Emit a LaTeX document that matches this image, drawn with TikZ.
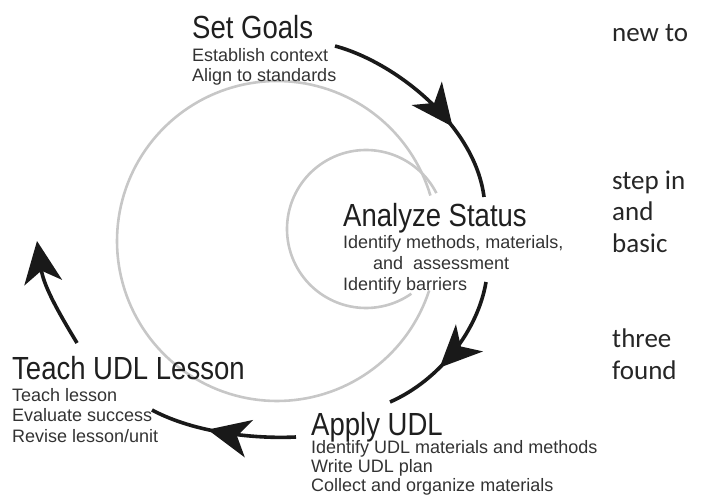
\documentclass[tikz,border=0pt]{standalone}
\usepackage{fontspec}
\usetikzlibrary{arrows.meta,decorations.markings}
\newfontfamily\headfont[FakeStretch=0.86]{Liberation Sans}
\newfontfamily\bodyfont{Liberation Sans}
\newfontfamily\pagefont{Carlito}

\begin{document}
\begin{tikzpicture}[x=1pt, y=-1pt,
    title/.style={font=\headfont\fontsize{32}{32}\selectfont, text=black!88, inner sep=0pt, anchor=base west},
    sub/.style={font=\bodyfont\fontsize{18}{18}\selectfont, text=black!80, inner sep=0pt, anchor=base west},
    page/.style={font=\pagefont\fontsize{27}{27}\selectfont, text=black!85, inner sep=0pt, anchor=base west},
    spiral/.style={draw=black!22, line width=2.6pt},
    flow/.style={color=black!90, line width=3.6pt},
    bigtip/.tip={Stealth[length=42pt, width=38pt, inset=12pt]},
    midtip/.style={postaction={decorate}, decoration={markings, mark=at position #1 with {\arrow{bigtip}}}}]

    \useasboundingbox (0,0) rectangle (704,502);

    % gray spiral
    \draw[spiral] plot[domain=-16.5:-342, samples=150] ({277+160*cos(\x)}, {241+160*sin(\x)});
    \draw[spiral] plot[domain=-27:-305, samples=120] ({366+79*cos(\x)}, {229+79*sin(\x)});

    % Set Goals
    \node[title] (goals) at (192,39) {Set Goals};
    \node[sub] (goals1) at (192,62) {Establish context};
    \node[sub] (goals2) at (192,82) {Align to standards};

    % Analyze Status
    \node[title] (status) at (343,227) {Analyze Status};
    \node[sub] (status1) at (343,249) {Identify methods, materials,};
    \node[sub] (status2) at (373,270) {and\ \ assessment};
    \node[sub] (status3) at (343,291) {Identify barriers};

    % Apply UDL
    \node[title] (apply) at (311,435) {Apply UDL};
    \node[sub] (apply1) at (311,453) {Identify UDL materials and methods};
    \node[sub] (apply2) at (311,472) {Write UDL plan};
    \node[sub] (apply3) at (311,491) {Collect and organize materials};

    % Teach UDL Lesson
    \node[title] (teach) at (12,380) {Teach UDL Lesson};
    \node[sub] (teach1) at (12,401) {Teach lesson};
    \node[sub] (teach2) at (12,421) {Evaluate success};
    \node[sub] (teach3) at (12,442) {Revise lesson/unit};

    % cycle arrows
    \coordinate (goals-out) at (335,46);
    \coordinate (status-in) at (484,197);
    \coordinate (status-out) at (486,282);
    \coordinate (apply-in) at (390,402);
    \coordinate (apply-out) at (296,437);
    \coordinate (teach-in) at (152,410);
    \coordinate (teach-out) at (77,343);
    \coordinate (back-in) at (37,241);

    \draw[flow, midtip=0.65] (goals-out) .. controls (395,62) and (475,125) .. (status-in);
    \draw[flow, midtip=0.62] (status-out) .. controls (478,330) and (440,380) .. (apply-in);
    \draw[flow, midtip=0.6] (apply-out) .. controls (255,439) and (195,433) .. (teach-in);
    \draw[flow, -bigtip] (teach-out) .. controls (62,318) and (44,288) .. (back-in);

    % page text beside the figure
    \node[page] (w1) at (612,42) {new to};
    \node[page] (w2) at (612,190) {step in};
    \node[page] (w3) at (612,221) {and};
    \node[page] (w4) at (612,253) {basic};
    \node[page] (w5) at (612,348) {three};
    \node[page] (w6) at (612,380) {found};

\end{tikzpicture}
\end{document}
